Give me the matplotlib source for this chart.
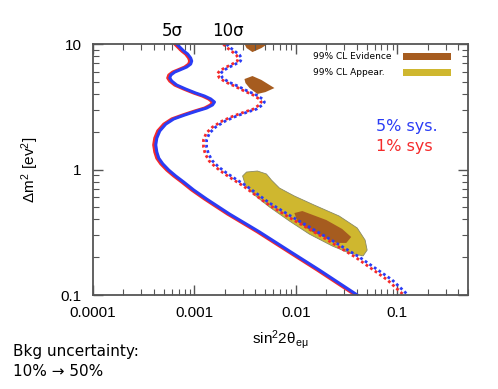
import numpy as np
import matplotlib
matplotlib.use("Agg")
import matplotlib.pyplot as plt
from matplotlib.patches import Polygon, Rectangle
from matplotlib.ticker import FixedLocator, FixedFormatter, LogLocator, NullFormatter

# 5 sigma contours (solid), 5% sys (blue) and 1% sys (red)
s5_blue_x = [6.70e-4, 7.17e-4, 7.85e-4, 8.59e-4, 9.20e-4, 9.41e-4, 9.20e-4, 8.40e-4, 7.17e-4, 6.40e-4,
             5.85e-4, 5.72e-4, 5.98e-4, 6.70e-4, 8.21e-4, 1.03e-3, 1.26e-3, 1.45e-3, 1.58e-3, 1.51e-3,
             1.32e-3, 1.05e-3, 8.03e-4, 6.26e-4, 5.22e-4, 4.56e-4, 4.26e-4, 4.16e-4, 4.26e-4, 4.46e-4,
             4.88e-4, 5.59e-4, 6.55e-4, 7.85e-4, 9.84e-4, 1.32e-3, 2.22e-3, 3.50e-3, 4.39e-3, 8.65e-3,
             1.71e-2, 4.04e-2]
s5_red_x = [6.40e-4, 6.85e-4, 7.50e-4, 8.20e-4, 8.79e-4, 8.99e-4, 8.79e-4, 8.02e-4, 6.85e-4, 6.11e-4,
            5.59e-4, 5.46e-4, 5.71e-4, 6.40e-4, 7.84e-4, 9.84e-4, 1.20e-3, 1.38e-3, 1.51e-3, 1.44e-3,
            1.26e-3, 1.00e-3, 7.67e-4, 5.98e-4, 4.99e-4, 4.35e-4, 4.07e-4, 3.97e-4, 4.07e-4, 4.26e-4,
            4.66e-4, 5.34e-4, 6.26e-4, 7.50e-4, 9.40e-4, 1.26e-3, 2.12e-3, 3.34e-3, 4.19e-3, 8.26e-3,
            1.63e-2, 3.86e-2]
s5_dm2 = [10, 9.46, 8.80, 8.32, 7.73, 7.32, 6.93, 6.56, 6.21, 5.98,
          5.66, 5.36, 5.07, 4.71, 4.38, 4.07, 3.85, 3.65, 3.45, 3.27,
          3.09, 2.92, 2.72, 2.53, 2.30, 2.03, 1.78, 1.57, 1.38, 1.23,
          1.11, 0.99, 0.888, 0.795, 0.687, 0.582, 0.442, 0.355, 0.318, 0.224,
          0.158, 0.1]

# 10 sigma contours (dotted)
s10_blue_x = [2.08e-3, 2.22e-3, 2.49e-3, 2.79e-3, 2.92e-3, 2.85e-3, 2.55e-3, 2.13e-3, 1.90e-3, 1.81e-3,
              1.90e-3, 2.18e-3, 2.67e-3, 3.34e-3, 4.10e-3, 4.69e-3, 4.91e-3, 4.69e-3, 4.10e-3, 3.34e-3,
              2.61e-3, 2.03e-3, 1.62e-3, 1.41e-3, 1.32e-3, 1.32e-3, 1.38e-3, 1.51e-3, 1.73e-3, 2.08e-3,
              2.55e-3, 3.27e-3, 5.50e-3, 9.26e-3, 0.0200, 0.0422, 0.0891, 0.128]
s10_red_x = [1.93e-3, 2.06e-3, 2.32e-3, 2.59e-3, 2.72e-3, 2.65e-3, 2.37e-3, 1.98e-3, 1.77e-3, 1.68e-3,
             1.77e-3, 2.03e-3, 2.48e-3, 3.11e-3, 3.81e-3, 4.36e-3, 4.57e-3, 4.36e-3, 3.81e-3, 3.11e-3,
             2.43e-3, 1.89e-3, 1.51e-3, 1.31e-3, 1.23e-3, 1.23e-3, 1.28e-3, 1.40e-3, 1.61e-3, 1.93e-3,
             2.37e-3, 3.04e-3, 5.10e-3, 8.50e-3, 0.0184, 0.0385, 0.0800, 0.116]
s10_dm2 = [10, 9.46, 8.80, 8.17, 7.73, 7.32, 6.93, 6.44, 6.09, 5.77,
           5.36, 4.98, 4.63, 4.22, 3.92, 3.65, 3.45, 3.27, 3.03, 2.87,
           2.67, 2.44, 2.18, 1.95, 1.72, 1.51, 1.33, 1.17, 1.05, 0.938,
           0.840, 0.739, 0.541, 0.418, 0.290, 0.201, 0.132, 0.1]

# 99% CL regions
appear_x = [2.99e-3, 3.27e-3, 4.19e-3, 5.14e-3, 5.76e-3, 6.90e-3, 9.69e-3, 0.0152, 0.0268, 0.0404,
            0.0483, 0.0506, 0.0462, 0.0337, 0.0229, 0.0136, 8.65e-3, 5.50e-3, 3.92e-3, 3.19e-3]
appear_y = [0.888, 0.955, 0.973, 0.921, 0.824, 0.712, 0.615, 0.521, 0.426, 0.342,
            0.274, 0.228, 0.205, 0.216, 0.246, 0.306, 0.389, 0.503, 0.626, 0.752]
evid1_x = [9.69e-3, 0.0116, 0.0200, 0.0287, 0.0352, 0.0315, 0.0251, 0.0146, 0.0104]
evid1_y = [0.450, 0.467, 0.396, 0.336, 0.290, 0.260, 0.260, 0.318, 0.382]
evid2_x = [3.12e-3, 3.74e-3, 4.59e-3, 6.16e-3, 5.02e-3, 4.19e-3, 3.50e-3, 3.19e-3]
evid2_y = [5.26, 5.56, 5.17, 4.46, 4.14, 4.00, 4.46, 4.89]
evid3_x = [3.12e-3, 5.26e-3, 4.59e-3, 3.74e-3, 3.27e-3]
evid3_y = [10, 10, 9.29, 8.63, 9.29]

xticks = [1e-4, 1e-3, 1e-2, 1e-1]
xticklabels = ["0.0001", "0.001", "0.01", "0.1"]
yticks = [0.1, 1, 10]
yticklabels = ["0.1", "1", "10"]
legend_labels = ["99% CL Evidence", "99% CL Appear."]

BLUE = "#2a3cf5"
RED = "#f52a2a"
BROWN = "#a65c1f"
GOLD = "#cfb72f"

fig = plt.figure(figsize=(4.98, 3.89), dpi=100)
ax = fig.add_axes([0.1867, 0.2416, 0.7531, 0.6452])
ax.set_xscale("log")
ax.set_yscale("log")
ax.set_xlim(1e-4, 0.5)
ax.set_ylim(0.1, 10)

ax.add_patch(Polygon(np.column_stack([appear_x, appear_y]), closed=True,
                     facecolor=GOLD, edgecolor="#888866", lw=0.6, zorder=1))
for px, py in [(evid1_x, evid1_y), (evid2_x, evid2_y), (evid3_x, evid3_y)]:
    ax.add_patch(Polygon(np.column_stack([px, py]), closed=True,
                         facecolor=BROWN, edgecolor="none", zorder=1.5))

ax.plot(s10_red_x, s10_dm2, color=RED, lw=2.0, ls=(0, (1, 1)), zorder=2)
ax.plot(s10_blue_x, s10_dm2, color=BLUE, lw=2.0, ls=(0, (1, 1)), zorder=2)
ax.plot(s5_red_x, s5_dm2, color=RED, lw=2.2, zorder=2)
ax.plot(s5_blue_x, s5_dm2, color=BLUE, lw=2.2, zorder=2)

ax.xaxis.set_major_locator(FixedLocator(xticks))
ax.xaxis.set_major_formatter(FixedFormatter(xticklabels))
ax.yaxis.set_major_locator(FixedLocator(yticks))
ax.yaxis.set_major_formatter(FixedFormatter(yticklabels))
ax.xaxis.set_minor_locator(LogLocator(base=10, subs=np.arange(2, 10)))
ax.yaxis.set_minor_locator(LogLocator(base=10, subs=np.arange(2, 10)))
ax.xaxis.set_minor_formatter(NullFormatter())
ax.yaxis.set_minor_formatter(NullFormatter())
ax.tick_params(which="both", direction="in", top=True, right=True, color="#555555")
ax.tick_params(which="major", length=7, width=1, labelsize=11, pad=8)
ax.tick_params(which="minor", length=4, width=0.8)
for sp in ax.spines.values():
    sp.set_color("#555555")
    sp.set_linewidth(1.3)
for lab in ax.get_xticklabels() + ax.get_yticklabels():
    lab.set_family("Liberation Sans")

ax.set_xlabel(r"$\mathregular{sin^22\theta_{e\mu}}$", fontsize=11, labelpad=6, family="Liberation Sans")
ax.set_ylabel(r"$\mathregular{\Delta m^2\ [ev^2]}$", fontsize=11, labelpad=14, family="Liberation Sans")

ax.text(0.0006, 10.8, "5\u03c3", fontsize=12, ha="center", va="bottom", clip_on=False)
ax.text(0.00215, 10.8, "10\u03c3", fontsize=12, ha="center", va="bottom", clip_on=False)

# legend drawn by hand: labels left-aligned, swatches to the right
for i, (lab, col) in enumerate(zip(legend_labels, [BROWN, GOLD])):
    yc = 0.952 - i * 0.064
    ax.text(0.587, yc, lab, fontsize=6.5, va="center", ha="left", transform=ax.transAxes)
    ax.add_patch(Rectangle((0.827, yc - 0.014), 0.128, 0.028, facecolor=col,
                           edgecolor="none", transform=ax.transAxes, zorder=3))

ax.text(0.755, 0.673, "5% sys.", color=BLUE, fontsize=11.5, va="center", transform=ax.transAxes)
ax.text(0.755, 0.590, "1% sys", color=RED, fontsize=11.5, va="center", transform=ax.transAxes)

fig.text(0.026, 0.085, "Bkg uncertainty:", fontsize=11, va="baseline")
fig.text(0.026, 0.034, "10% \u2192 50%", fontsize=11, va="baseline")

fig.savefig("out.png", dpi=100)
